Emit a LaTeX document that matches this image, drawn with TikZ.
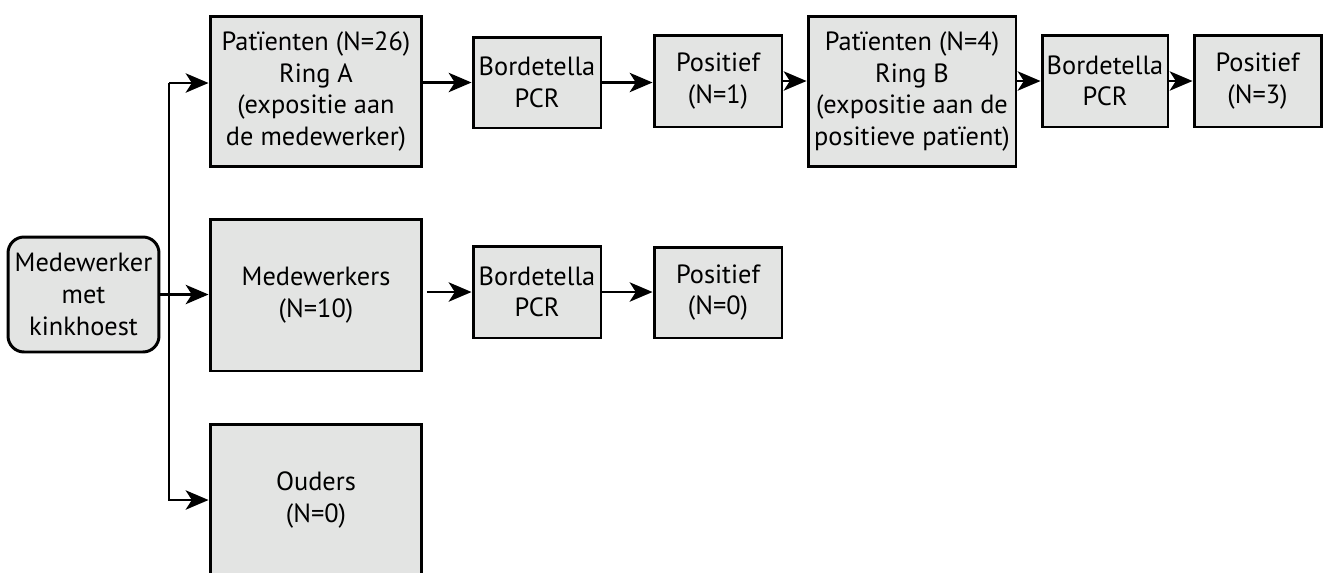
\documentclass[tikz,border=0pt]{standalone}
\usepackage{fontspec}
\setmainfont{PT Sans}
\usetikzlibrary{arrows.meta}
\definecolor{boxfill}{RGB}{227,228,227}
\tikzset{
  px/.style={x=0.02cm,y=-0.02cm},
  flowbox/.style={draw=black,line width=1.7pt,fill=boxfill,align=center,inner sep=0pt,
    font=\fontsize{15}{18}\selectfont},
  roundbox/.style={flowbox,rounded corners=0.32cm},
  arr/.style={line width=1.4pt,-{Stealth[length=13pt,width=11pt,inset=3.5pt]}}
}
\begin{document}
\begin{tikzpicture}[px]
\useasboundingbox (0,0) rectangle (1331,572);
\node[roundbox,minimum width=3.02cm,minimum height=2.30cm] (med) at (83.5,294.5) {Medewerker\\met\\kinkhoest};
\node[flowbox,minimum width=4.24cm,minimum height=3.02cm] (patA) at (316,91.5) {Patïenten (N=26)\\Ring A\\(expositie aan\\de medewerker)};
\node[flowbox,minimum width=4.24cm,minimum height=3.04cm] (medw) at (316,295) {Medewerkers\\(N=10)};
\node[flowbox,minimum width=4.24cm,minimum height=3.04cm] (ouders) at (316,500) {Ouders\\(N=0)};
\node[flowbox,minimum width=2.56cm,minimum height=1.82cm] (bord1) at (537,82.5) {Bordetella\\PCR};
\node[flowbox,minimum width=2.56cm,minimum height=1.84cm] (pos1) at (718,81) {Positief\\(N=1)};
\node[flowbox,minimum width=4.16cm,minimum height=3.02cm] (patB) at (912,91.5) {Patïenten (N=4)\\Ring B\\(expositie aan de\\positieve patïent)};
\node[flowbox,minimum width=2.52cm,minimum height=1.84cm] (bord2) at (1105,81) {Bordetella\\PCR};
\node[flowbox,minimum width=2.54cm,minimum height=1.84cm] (pos2) at (1257.5,81) {Positief\\(N=3)};
\node[flowbox,minimum width=2.56cm,minimum height=1.84cm] (bord3) at (537,292) {Bordetella\\PCR};
\node[flowbox,minimum width=2.56cm,minimum height=1.82cm] (pos3) at (718,292.5) {Positief\\(N=0)};
\coordinate (ta) at (169,83);
% trunk
\draw[arr] (ta) -- (ta -| patA.west);
\draw[arr] (ta) |- (ouders.west);
\draw[arr] (med.east) -- (med.east -| medw.west);
% row 1
\draw[arr] (bord1 -| patA.east) -- (bord1.west);
\draw[arr] (bord1.east) -- (bord1.east -| pos1.west);
\draw[arr] (pos1.east) -- (pos1.east -| patB.west);
\draw[arr] (bord2 -| patB.east) -- (bord2.west);
\draw[arr] (bord2.east) -- (pos2.west);
% row 2
\draw[arr,shorten <=2pt] (bord3 -| medw.east) -- (bord3.west);
\draw[arr] (bord3.east) -- (bord3.east -| pos3.west);
\end{tikzpicture}
\end{document}
